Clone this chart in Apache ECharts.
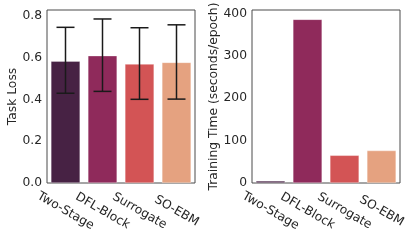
<!DOCTYPE html>
<html><head><meta charset="utf-8">
<script src="https://cdn.jsdelivr.net/npm/echarts@6/dist/echarts.min.js"></script>
<style>html,body{margin:0;padding:0;background:#fff}#c{width:415px;height:240px}</style>
</head><body><div id="c"></div>
<script>
const categories = ['Two-Stage', 'DFL-Block', 'Surrogate', 'SO-EBM'];
const taskLoss = [0.584, 0.610, 0.570, 0.578];
const taskLossLow = [0.430, 0.439, 0.401, 0.402];
const taskLossHigh = [0.746, 0.786, 0.744, 0.758];
const trainingTime = [5, 386, 65.4, 76.5];
const lossTicks = [0, 0.2, 0.4, 0.6, 0.8];
const timeTicks = [0, 100, 200, 300, 400];
const colors = ['#472244', '#8f2a5b', '#d35455', '#e5a280'];

const txt = '#262626';
const font = "'DejaVu Sans', sans-serif";
const fs = 12.3;
const chart = echarts.init(document.getElementById('c'), null, {renderer: 'canvas'});

function xAxis(gi) {
  return {
    type: 'category', gridIndex: gi, data: categories,
    axisLine: {show: false}, axisTick: {show: false},
    axisLabel: {rotate: -30, align: 'center', verticalAlign: 'middle', margin: 28,
      color: txt, fontFamily: font, fontSize: fs, interval: 0}
  };
}
function yAxis(gi, max, interval, name, gap, ticks, digits) {
  return {
    type: 'value', gridIndex: gi, min: 0, max: max, interval: interval,
    name: name, nameLocation: 'middle', nameGap: gap,
    nameTextStyle: {color: txt, fontFamily: font, fontSize: fs},
    axisLine: {show: false}, axisTick: {show: false}, splitLine: {show: false},
    axisLabel: {color: txt, fontFamily: font, fontSize: fs, margin: 5, showMaxLabel: false,
      formatter: v => (ticks.some(t => Math.abs(t - v) < 1e-9) ? v.toFixed(digits) : '')}
  };
}
function barData(vals) {
  return vals.map((v, i) => ({value: v, itemStyle: {color: colors[i]}}));
}

chart.setOption({
  animation: false,
  grid: [
    {left: 47, top: 10, width: 148, height: 173, show: true, borderColor: '#4a4a4a', borderWidth: 1, backgroundColor: 'transparent'},
    {left: 252, top: 10, width: 148, height: 173, show: true, borderColor: '#4a4a4a', borderWidth: 1, backgroundColor: 'transparent'}
  ],
  xAxis: [xAxis(0), xAxis(1)],
  yAxis: [
    yAxis(0, 0.829, 0.2, 'Task Loss', 27, lossTicks, 1),
    yAxis(1, 408, 100, 'Training Time (seconds/epoch)', 31, timeTicks, 0)
  ],
  series: [
    {type: 'bar', xAxisIndex: 0, yAxisIndex: 0, data: barData(taskLoss), barWidth: '79%',
      itemStyle: {borderColor: 'rgba(255,255,255,0.5)', borderWidth: 0.6}},
    {type: 'custom', xAxisIndex: 0, yAxisIndex: 0, z: 10,
      data: categories.map((c, i) => [i, taskLossLow[i], taskLossHigh[i]]),
      renderItem: function (params, api) {
        const i = api.value(0);
        const lo = api.coord([i, api.value(1)]);
        const hi = api.coord([i, api.value(2)]);
        const hw = 9;
        const st = {stroke: '#1a1a1a', lineWidth: 1.5};
        return {type: 'group', children: [
          {type: 'line', shape: {x1: lo[0], y1: lo[1], x2: hi[0], y2: hi[1]}, style: st},
          {type: 'line', shape: {x1: lo[0] - hw, y1: lo[1], x2: lo[0] + hw, y2: lo[1]}, style: st},
          {type: 'line', shape: {x1: hi[0] - hw, y1: hi[1], x2: hi[0] + hw, y2: hi[1]}, style: st}
        ]};
      }
    },
    {type: 'bar', xAxisIndex: 1, yAxisIndex: 1, data: barData(trainingTime), barWidth: '79%',
      itemStyle: {borderColor: 'rgba(255,255,255,0.5)', borderWidth: 0.6}}
  ]
});
</script></body></html>
